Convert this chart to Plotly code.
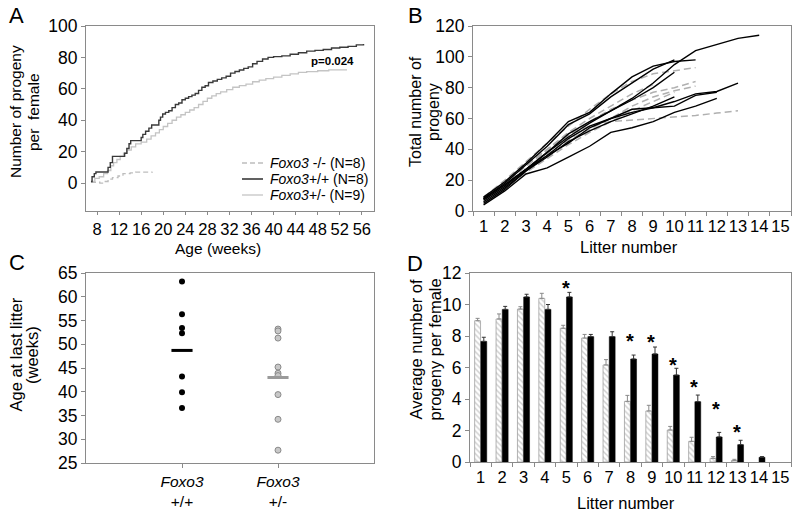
import plotly.graph_objects as go

FONT = "Liberation Sans, Arial, Helvetica, sans-serif"
W, H = 800, 514

# ---------------- Panel A: cumulative progeny per female vs age ----------------
a_age_ticks = [8, 12, 16, 20, 24, 28, 32, 36, 40, 44, 48, 52, 56]
a_y_ticks = [0, 20, 40, 60, 80, 100]

a_wt_weeks = [6.9, 7.1, 7.5, 7.8, 10.0, 10.4, 10.8, 13.0, 13.4, 13.8, 14.1, 16.0, 16.3, 16.8,
              17.4, 17.9, 19.2, 19.5, 19.9, 20.4, 21.0, 21.6, 22.2, 22.8, 23.4, 24.0, 24.6,
              25.2, 25.8, 26.4, 27.0, 27.6, 28.2, 29.0, 29.8, 30.6, 31.4, 32.2, 33.0, 33.8,
              34.6, 35.4, 36.2, 37.0, 38.0, 39.0, 40.0, 41.5, 43.0, 44.5, 46.0, 47.5, 49.0,
              50.5, 52.0, 53.5, 55.0, 56.3]
a_wt_progeny = [1, 4, 6, 7, 10, 13, 17, 19, 22, 25, 27, 29, 31, 33, 35, 37, 40, 42, 44, 45, 46,
                48, 50, 51, 53, 54, 55, 56, 57, 59, 61, 62, 64, 65, 66, 67, 68, 70, 71, 72, 73,
                74, 76, 77.5, 79, 80, 80.5, 81, 82, 83, 84, 84.5, 85, 86, 86.5, 87, 88, 88.5]

a_het_weeks = [7.0, 7.6, 8.4, 9.2, 9.9, 10.5, 11.0, 11.6, 12.2, 12.8, 13.5, 14.2, 15.0, 16.0,
               17.0, 17.8, 18.6, 19.3, 20.0, 20.8, 21.6, 22.4, 23.2, 24.0, 24.8, 25.6, 26.4,
               27.2, 28.0, 28.8, 29.6, 30.4, 31.5, 32.6, 33.8, 35.0, 36.2, 37.4, 38.6, 40.0,
               41.5, 43.0, 44.5, 46.0, 48.0, 50.0, 53.3]
a_het_progeny = [1, 3, 4, 6, 8, 11, 13, 15, 17, 19, 21, 23, 25, 26, 28, 30, 32, 34, 36, 38, 40,
                 42, 43.5, 45, 46.5, 48, 50, 52, 54, 55.5, 57, 58, 59.5, 61, 62, 63, 64.5, 65.5,
                 66.5, 67.5, 68.5, 69.5, 70.5, 71, 71.5, 72, 72]

a_ko_weeks = [6.9, 8.5, 9.2, 10.0, 10.8, 11.8, 12.7, 14.0, 15.0, 18.0]
a_ko_progeny = [0.5, 0, 1, 2.5, 3.5, 4.5, 6, 6.5, 7, 7.2]

a_legend = ["<i>Foxo3</i> -/- (N=8)", "<i>Foxo3</i>+/+ (N=8)", "<i>Foxo3</i>+/- (N=9)"]
a_pvalue = "p=0.024"

# ---------------- Panel B: total progeny vs litter number ----------------
b_litters = list(range(1, 16))
b_y_ticks = [0, 20, 40, 60, 80, 100, 120]
b_solid = [
    [8, 17, 27, 38, 48, 57, 65, 73, 83, 95, 104, 108, 112, 114],
    [9, 19, 31, 44, 58, 64, 76, 87, 94, 97, 98],
    [8, 18, 30, 42, 56, 63, 74, 83, 92, 98],
    [7, 16, 27, 38, 50, 58, 65, 72, 80, 90],
    [6, 15, 26, 36, 47, 55, 60, 64, 67, 71, 76, 77.5, 83],
    [8, 17, 27, 36, 44, 54, 60, 66, 67, 68, 75, 77],
    [5, 14, 26, 35, 45, 52, 58, 63, 68, 74],
    [4, 13, 24, 28, 35, 42, 51, 54, 58, 64, 68, 73],
]
b_dashed = [
    [9, 19, 30, 40, 49, 55, 58, 59, 60, 61, 62, 63.5, 65],
    [9, 20, 32, 44, 55, 66, 76, 84, 89, 91, 93],
    [8, 18, 29, 39, 49, 58, 66, 72, 77, 80, 84],
    [7, 17, 27, 37, 46, 53, 60, 68, 74, 78, 81],
    [8, 18, 29, 40, 51, 60, 68, 76, 82],
    [6, 15, 25, 34, 43, 51, 58, 65, 71, 77],
]

# ---------------- Panel C: age at last litter ----------------
c_groups = ["<i>Foxo3</i><br>+/+", "<i>Foxo3</i><br>+/-"]
c_wt_age = [63.2, 56.3, 53.4, 52.3, 43.2, 39.9, 36.6]
c_het_age = [53.2, 52.8, 51.3, 45.2, 43.9, 43.4, 39.4, 34.2, 27.7]
c_means = [48.7, 43.0]
c_y_ticks = [25, 30, 35, 40, 45, 50, 55, 60, 65]

# ---------------- Panel D: average progeny per litter ----------------
d_litters = list(range(1, 16))
d_het = [8.97, 9.08, 9.71, 10.39, 8.49, 7.87, 6.16, 3.85, 3.24, 2.03, 1.31, 0.23, 0.10, None, None]
d_het_err = [0.15, 0.32, 0.15, 0.32, 0.19, 0.23, 0.34, 0.38, 0.36, 0.23, 0.26, 0.11, 0.07, None, None]
d_wt = [7.66, 9.69, 10.48, 9.69, 10.48, 7.96, 7.96, 6.54, 6.86, 5.52, 3.83, 1.59, 1.10, 0.30, None]
d_wt_err = [0.26, 0.19, 0.17, 0.31, 0.29, 0.14, 0.31, 0.25, 0.44, 0.43, 0.42, 0.29, 0.28, 0.04, None]
d_star_litters = [5, 8, 9, 10, 11, 12, 13]
d_star_y = [11.34, 8.0, 7.96, 6.48, 5.06, 3.66, 2.24]
d_y_ticks = [0, 2, 4, 6, 8, 10, 12]

FRAME = "#8a8a8a"


def PX(p):
    return p / W


def PY(p):
    return 1 - p / H


fig = go.Figure()

# Panel A traces
fig.add_trace(go.Scatter(x=a_ko_weeks, y=a_ko_progeny, mode="lines", xaxis="x", yaxis="y",
                         line=dict(color="#bdbdbd", width=1.3, dash="5px,3px", shape="hv"),
                         showlegend=False, hoverinfo="skip"))
fig.add_trace(go.Scatter(x=a_het_weeks, y=a_het_progeny, mode="lines", xaxis="x", yaxis="y",
                         line=dict(color="#c4c4c4", width=1.3, shape="hv"),
                         showlegend=False, hoverinfo="skip"))
fig.add_trace(go.Scatter(x=a_wt_weeks, y=a_wt_progeny, mode="lines", xaxis="x", yaxis="y",
                         line=dict(color="#3a3a3a", width=1.4, shape="hv"),
                         showlegend=False, hoverinfo="skip"))

# Panel B traces
for series in b_dashed:
    fig.add_trace(go.Scatter(x=b_litters[:len(series)], y=series, mode="lines", xaxis="x2", yaxis="y2",
                             line=dict(color="#b0b0b0", width=1.5, dash="7px,4px"),
                             showlegend=False, hoverinfo="skip"))
for series in b_solid:
    fig.add_trace(go.Scatter(x=b_litters[:len(series)], y=series, mode="lines", xaxis="x2", yaxis="y2",
                             line=dict(color="#000000", width=1.4),
                             showlegend=False, hoverinfo="skip"))

# Panel C traces
fig.add_trace(go.Scatter(x=[1] * len(c_wt_age), y=c_wt_age, mode="markers", xaxis="x3", yaxis="y3",
                         marker=dict(color="black", size=6), showlegend=False, hoverinfo="skip"))
fig.add_trace(go.Scatter(x=[2] * len(c_het_age), y=c_het_age, mode="markers", xaxis="x3", yaxis="y3",
                         marker=dict(color="#c8c8c8", size=6, line=dict(color="#8a8a8a", width=1)),
                         showlegend=False, hoverinfo="skip"))
for i, (m, col) in enumerate(zip(c_means, ["black", "#9a9a9a"])):
    fig.add_trace(go.Scatter(x=[i + 1 - 0.11, i + 1 + 0.11], y=[m, m], mode="lines", xaxis="x3", yaxis="y3",
                             line=dict(color=col, width=3), showlegend=False, hoverinfo="skip"))

# Panel D traces
fig.add_trace(go.Bar(x=d_litters, y=d_het, xaxis="x4", yaxis="y4",
                     marker=dict(color="white", line=dict(color="#a0a0a0", width=0.8),
                                 pattern=dict(shape="\\", fgcolor="#9a9a9a", bgcolor="white",
                                              size=4, solidity=0.35)),
                     error_y=dict(type="data", symmetric=False, array=d_het_err,
                                  arrayminus=[0] * len(d_het_err), color="#8a8a8a", thickness=1, width=2),
                     showlegend=False, hoverinfo="skip"))
fig.add_trace(go.Bar(x=d_litters, y=d_wt, xaxis="x4", yaxis="y4",
                     marker=dict(color="black", line=dict(color="black", width=0.5)),
                     error_y=dict(type="data", symmetric=False, array=d_wt_err,
                                  arrayminus=[0] * len(d_wt_err), color="#333333", thickness=1, width=2),
                     showlegend=False, hoverinfo="skip"))

TICKSIZE = 17.5
common = dict(showline=True, linecolor=FRAME, linewidth=1, mirror=True, showgrid=False, zeroline=False,
              ticks="outside", ticklen=4, tickcolor=FRAME, automargin=False, tickangle=0,
              tickfont=dict(family=FONT, size=TICKSIZE, color="black"))

boundary_ticks = dict(tickvals=[v + 0.5 for v in range(0, 16)], ticks="outside", ticklen=4, tickcolor=FRAME)
litter_font = dict(family=FONT, size=16.5, color="black")

fig.update_layout(
    width=W, height=H, margin=dict(l=0, r=0, t=0, b=0, autoexpand=False),
    paper_bgcolor="white", plot_bgcolor="white",
    font=dict(family=FONT, color="black"),
    barmode="group", bargap=0.42, bargroupgap=0.05,
    xaxis=dict(domain=[PX(86), PX(374)], range=[6, 58.2], tickvals=a_age_ticks, anchor="y",
               **{**common, "ticklen": 3, "tickfont": litter_font}),
    yaxis=dict(domain=[PY(211), PY(26)], range=[-17.8, 100], tickvals=a_y_ticks, anchor="x", **common),
    xaxis2=dict(domain=[PX(473), PX(791)], range=[0.5, 15.5], tickvals=b_litters, anchor="y2",
                **{**common, "ticks": "", "tickfont": litter_font}, minor=boundary_ticks),
    yaxis2=dict(domain=[PY(211), PY(26)], range=[0, 120], tickvals=b_y_ticks, anchor="x2", **common),
    xaxis3=dict(domain=[PX(86), PX(374)], range=[0, 3], tickvals=[1, 2], ticktext=c_groups, anchor="y3",
                **{**common, "tickfont": dict(family=FONT, size=15.5, color="black")}),
    yaxis3=dict(domain=[PY(463), PY(273)], range=[25, 65], tickvals=c_y_ticks, anchor="x3", **common),
    xaxis4=dict(domain=[PX(470), PX(791)], range=[0.5, 15.5], tickvals=d_litters, anchor="y4",
                **{**common, "ticks": "", "tickfont": litter_font}, minor=boundary_ticks),
    yaxis4=dict(domain=[PY(462), PY(273)], range=[0, 12], tickvals=d_y_ticks, anchor="x4", **common),
)

ann = []


def text(x, y, s, size=16, angle=0, xanchor="center", yanchor="middle", bold=False):
    ann.append(dict(x=PX(x), y=PY(y), xref="paper", yref="paper", text=(f"<b>{s}</b>" if bold else s),
                    showarrow=False, textangle=angle, xanchor=xanchor, yanchor=yanchor,
                    font=dict(family=FONT, size=size, color="black")))


# panel letters
text(16, 15, "A", size=22)
text(415, 15, "B", size=22)
text(17, 262, "C", size=22)
text(415, 263, "D", size=22)

# axis titles (each line placed separately)
text(15, 112, "Number of progeny", size=15.5, angle=-90)
text(33, 112, "per  female", size=15.5, angle=-90)
text(218, 248, "Age (weeks)", size=15.5)
text(415, 112, "Total number of", size=16, angle=-90)
text(433, 112, "progeny", size=16, angle=-90)
text(629, 247, "Litter number", size=16.5)
text(15.5, 355, "Age at last litter", size=16.5, angle=-90)
text(32, 355, "(weeks)", size=16.5, angle=-90)
text(415.5, 350, "Average number of", size=16.5, angle=-90)
text(434.5, 350, "progeny per female", size=16.5, angle=-90)
text(626, 503, "Litter number", size=16.5)

# p value
text(332, 61, a_pvalue, size=11.5, bold=True)

# legend for panel A
legend_rows = [163, 179, 195]
legend_styles = [dict(color="#bdbdbd", width=1.3, dash="5px,3px"),
                 dict(color="#3a3a3a", width=1.6),
                 dict(color="#c4c4c4", width=1.3)]
shapes = []
for row, st, lab in zip(legend_rows, legend_styles, a_legend):
    shapes.append(dict(type="line", xref="paper", yref="paper", x0=PX(242), x1=PX(263),
                       y0=PY(row), y1=PY(row), line=st))
    text(268, row, lab, size=14, xanchor="left")

# significance stars in panel D
for lx, sy in zip(d_star_litters, d_star_y):
    ann.append(dict(x=lx - 0.02, y=sy, xref="x4", yref="y4", text="<b>*</b>", showarrow=False,
                    yshift=-5, font=dict(family=FONT, size=20, color="black")))

fig.update_layout(annotations=ann, shapes=shapes)
fig.write_html("out.html", config={"displayModeBar": False},
               post_script="document.body.style.margin='0px';")
